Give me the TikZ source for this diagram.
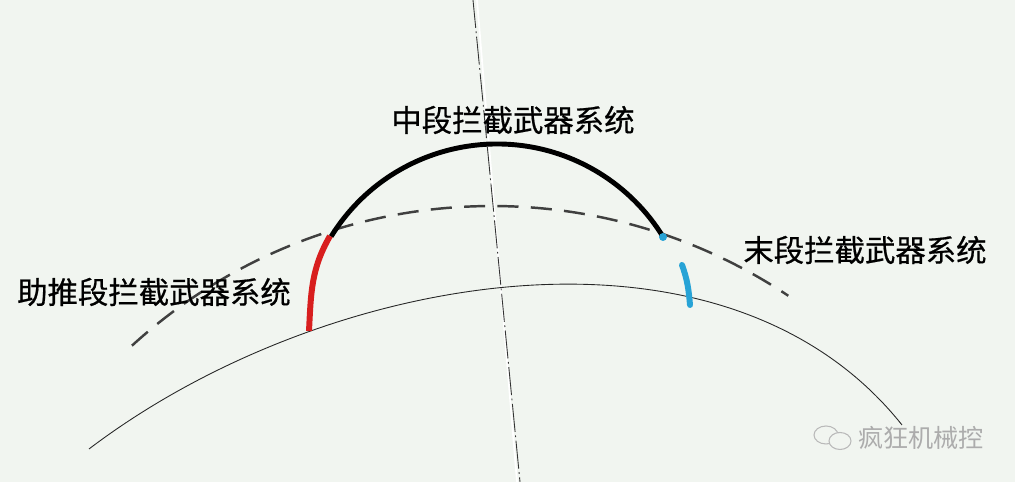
\documentclass[tikz,border=0pt]{standalone}
\usepackage{fontspec}
\newfontfamily\cjk[FakeBold=0.6]{Noto Sans CJK SC}
\newfontfamily\cjklight{Noto Sans CJK SC}
\usetikzlibrary{calc}
\definecolor{bgpaper}{RGB}{241,245,240}
\definecolor{boostred}{RGB}{216,30,30}
\definecolor{termblue}{RGB}{39,163,214}

\tikzset{
  lbl/.style={font=\cjk\fontsize{17.3}{20}\selectfont, inner sep=0pt},
  wmark/.style={font=\cjklight\fontsize{14.3}{16}\selectfont, text=gray!65, inner sep=0pt}
}

\begin{document}
\begin{tikzpicture}[x=0.02cm,y=0.02cm]
        \fill[bgpaper] (0,0) rectangle (1015,482);
        \useasboundingbox (0,0) rectangle (1015,482);
        % axis
        \draw[white, line width=1pt] (477,482) -- (517,0);
        \draw[black!80, line width=0.5pt, dash pattern=on 16pt off 2pt on 1pt off 2pt] (473,482) -- (520,0);
        % earth and atmosphere
        \draw[black!85, line width=0.5pt] (89,33) .. controls (322,210) and (723,282) .. (902,57);
        \draw[black!75, line width=1.4pt, dash pattern=on 12pt off 7pt] (492,-258) ++(132.4:534) arc[start angle=132.4, end angle=56.3, radius=534];
        % phases
        \coordinate (bst) at (330,246);
        \coordinate (bsb) at (309,151);
        \coordinate (trm) at (663,245);
        \draw[black, line width=2.8pt] (497,143) ++(148.3:195) arc[start angle=148.3, end angle=31.6, radius=195];
        \draw[boostred, line width=3.4pt] (bst) to[out=240,in=87] (bsb);
        \fill[termblue] (trm) circle (4);
        \draw[termblue, line width=3.4pt, line cap=round] (682,217) to[out=-70,in=95] (690,177);
        % labels
        \node[lbl] (mid) at (513,362) {中段拦截武器系统};
        \node[lbl] (term) at (865,232) {末段拦截武器系统};
        \node[lbl] (boost) at (154,190) {助推段拦截武器系统};
        % watermark
        \draw[gray!55, line width=0.6pt] (826,47) ellipse (12 and 9);
        \draw[gray!55, line width=0.6pt, fill=bgpaper] (840,41) ellipse (11 and 8.5);
        \node[wmark, anchor=west] (wm) at (858,44) {疯狂机械控};
    \end{tikzpicture}
\end{document}
